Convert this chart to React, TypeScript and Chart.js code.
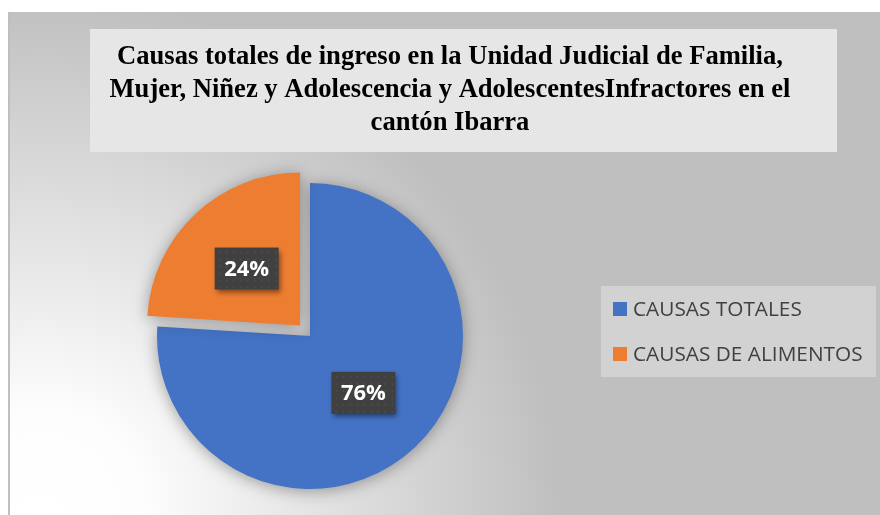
import React, { useEffect, useRef } from "react";
import { Chart, registerables } from "chart.js";

Chart.register(...registerables);

const categories = ["CAUSAS TOTALES", "CAUSAS DE ALIMENTOS"];
const percentages = [76, 24];
const sliceColors = ["#4472C4", "#ED7D31"];
const sliceOffsets = [0, 58];
const titleLines = [
  "Causas totales de ingreso en la Unidad Judicial de Familia,",
  "Mujer, Niñez y Adolescencia y AdolescentesInfractores en el",
  "cantón Ibarra",
];

const decorPlugin = {
  id: "decor",
  beforeDraw(chart: any) {
    const ctx = chart.ctx as CanvasRenderingContext2D;
    const W = chart.width;
    const H = chart.height;
    ctx.save();
    ctx.fillStyle = "#ffffff";
    ctx.fillRect(0, 0, W, H);
    const g = ctx.createRadialGradient(40, 515, 0, 40, 515, 520);
    g.addColorStop(0, "#ffffff");
    g.addColorStop(0.2, "#fdfdfd");
    g.addColorStop(1, "#bfbfbf");
    ctx.fillStyle = g;
    ctx.fillRect(9, 12, W - 9, H - 12);
    ctx.strokeStyle = "#bfbfbf";
    ctx.lineWidth = 2;
    ctx.beginPath();
    ctx.moveTo(9, 12);
    ctx.lineTo(9, H);
    ctx.stroke();

    // title box
    ctx.fillStyle = "#e6e6e6";
    ctx.fillRect(90, 29, 747, 123);
    ctx.fillStyle = "#000000";
    ctx.font = "bold 26.6px 'Liberation Serif'";
    ctx.textAlign = "center";
    ctx.textBaseline = "alphabetic";
    titleLines.forEach((line, i) => ctx.fillText(line, 450, 64 + i * 33));

    // legend box
    ctx.fillStyle = "#d2d2d2";
    ctx.fillRect(601, 286, 275, 91);
    ctx.font = "20.8px 'Open Sans'";
    ctx.textAlign = "left";
    ctx.textBaseline = "middle";
    categories.forEach((c, i) => {
      const y = 309 + i * 45;
      ctx.fillStyle = sliceColors[i];
      ctx.fillRect(613, y - 7, 14, 14);
      ctx.fillStyle = "#404040";
      ctx.fillText(c, 633, y + 1);
    });
    ctx.restore();
  },
  beforeDatasetsDraw(chart: any) {
    const ctx = chart.ctx as CanvasRenderingContext2D;
    ctx.save();
    ctx.shadowColor = "rgba(0,0,0,0.35)";
    ctx.shadowBlur = 16;
    ctx.shadowOffsetX = 0;
    ctx.shadowOffsetY = 2;
  },
  afterDatasetsDraw(chart: any) {
    const ctx = chart.ctx as CanvasRenderingContext2D;
    ctx.restore();
    const meta = chart.getDatasetMeta(0);
    ctx.save();
    meta.data.forEach((arc: any, i: number) => {
      const mid = (arc.startAngle + arc.endAngle) / 2;
      const dist = arc.outerRadius * 0.51 + (sliceOffsets[i] || 0) / 4;
      const x = arc.x + Math.cos(mid) * dist;
      const y = arc.y + Math.sin(mid) * dist;
      const w = 64;
      const h = 42;
      ctx.save();
      ctx.shadowColor = "rgba(0,0,0,0.45)";
      ctx.shadowBlur = 5;
      ctx.shadowOffsetX = 2;
      ctx.shadowOffsetY = 3;
      ctx.fillStyle = "#404040";
      ctx.fillRect(x - w / 2, y - h / 2, w, h);
      ctx.restore();
      ctx.fillStyle = "rgba(255,255,255,0.06)";
      for (let dx = 4; dx < w; dx += 7) {
        for (let dy = 4; dy < h; dy += 7) {
          ctx.fillRect(x - w / 2 + dx, y - h / 2 + dy, 2, 2);
        }
      }
      ctx.fillStyle = "#ffffff";
      ctx.font = "bold 22px 'Open Sans'";
      ctx.textAlign = "center";
      ctx.textBaseline = "middle";
      ctx.fillText(percentages[i] + "%", x, y + 1);
    });
    ctx.restore();
  },
};

export default function App() {
  const ref = useRef<HTMLCanvasElement | null>(null);
  useEffect(() => {
    if (!ref.current) return;
    const chart = new Chart(ref.current, {
      type: "pie",
      data: {
        labels: categories,
        datasets: [
          {
            data: percentages,
            backgroundColor: sliceColors,
            borderWidth: 0,
            offset: sliceOffsets,
            radius: 153,
          } as any,
        ],
      },
      options: {
        responsive: false,
        animation: false,
        events: [],
        layout: { padding: { left: 0, right: 260, top: 157, bottom: 0 } },
        plugins: {
          legend: { display: false },
          tooltip: { enabled: false },
          title: { display: false },
        },
      },
      plugins: [decorPlugin],
    });
    return () => chart.destroy();
  }, []);
  return (
    <div style={{ position: "absolute", left: 0, top: 0, width: 880, height: 515 }}>
      <canvas ref={ref} width={880} height={515} />
    </div>
  );
}
